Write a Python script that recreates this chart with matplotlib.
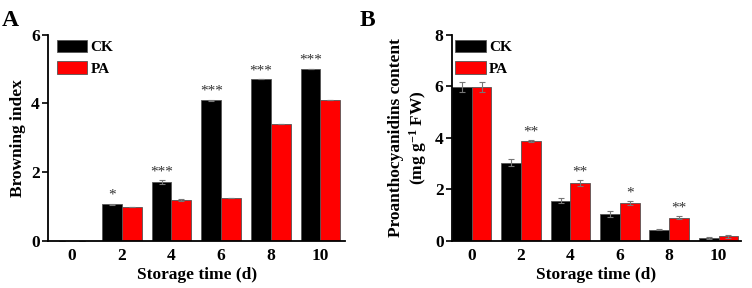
import matplotlib
matplotlib.use("Agg")
import matplotlib.pyplot as plt
import numpy as np

days = ["0", "2", "4", "6", "8", "10"]

# Panel A: browning index
bi_ck = [0.0, 1.07, 1.72, 4.09, 4.70, 5.00]
bi_ck_err = [0.0, 0.02, 0.05, 0.02, 0.0, 0.0]
bi_pa = [0.0, 1.00, 1.19, 1.25, 3.40, 4.10]
bi_pa_err = [0.0, 0.0, 0.02, 0.0, 0.0, 0.0]
bi_sig = ["", "*", "***", "***", "***", "***"]

# Panel B: proanthocyanidins content
pc_ck = [5.98, 3.04, 1.57, 1.04, 0.44, 0.12]
pc_ck_err = [0.19, 0.13, 0.08, 0.12, 0.02, 0.03]
pc_pa = [5.97, 3.88, 2.25, 1.48, 0.91, 0.18]
pc_pa_err = [0.20, 0.05, 0.12, 0.08, 0.06, 0.06]
pc_sig = ["", "**", "**", "*", "**", ""]

plt.rcParams['font.family'] = ['Liberation Serif', 'DejaVu Serif']
plt.rcParams['font.weight'] = 'bold'
plt.rcParams['mathtext.fontset'] = 'custom'
plt.rcParams['mathtext.rm'] = 'Liberation Serif:bold'
plt.rcParams['mathtext.default'] = 'rm'

fig = plt.figure(figsize=(7.52, 2.88), dpi=100)
axA = fig.add_axes([0.0642, 0.163, 0.395, 0.717])
axB = fig.add_axes([0.601, 0.163, 0.384, 0.717])

w = 0.4
x = np.arange(len(days))
edge = '#555555'
ekw = dict(ecolor='#777777', elinewidth=0.8, capsize=2, capthick=0.8)


def style(ax, ymax, ystep):
    for s in ['top', 'right']:
        ax.spines[s].set_visible(False)
    for s in ['left', 'bottom']:
        ax.spines[s].set_linewidth(1.3)
    ax.set_ylim(0, ymax)
    ax.set_yticks(np.arange(0, ymax + 0.01, ystep))
    ax.set_xticks(x)
    ax.set_xticklabels(days)
    ax.tick_params(axis='y', direction='out', length=4, width=1.2, labelsize=12.5, pad=2)
    ax.tick_params(axis='x', length=0, labelsize=12.5, pad=5)
    for lab in ax.get_xticklabels() + ax.get_yticklabels():
        lab.set_fontweight('bold')
    ax.set_xlabel("Storage time (d)", fontsize=12.5, fontweight='bold', labelpad=2)


def legend(ax, xa, ya):
    ax.legend(loc='upper left', bbox_to_anchor=(xa, ya), frameon=False, fontsize=11,
              handlelength=2.0, handleheight=0.9, handletextpad=0.2,
              labelspacing=0.45, borderaxespad=0.0)


# Panel A
axA.bar(x - w / 2, bi_ck, w, yerr=bi_ck_err, color='black', edgecolor=edge, linewidth=0.6, label='CK', error_kw=ekw)
axA.bar(x + w / 2, bi_pa, w, yerr=bi_pa_err, color='#ff0000', edgecolor=edge, linewidth=0.6, label='PA', error_kw=ekw)
for i, s in enumerate(bi_sig):
    if s:
        axA.text(x[i] - w / 2, bi_ck[i] + bi_ck_err[i] + 0.06, s, ha='center', va='bottom', fontsize=11, fontweight='normal', color='#333333')
axA.set_xlim(-0.48, 5.5)
style(axA, 6, 2)
axA.set_ylabel("Browning index", fontsize=12.5, fontweight='bold', labelpad=4)
legend(axA, 0.008, 1.005)

# Panel B
axB.bar(x - w / 2, pc_ck, w, yerr=pc_ck_err, color='black', edgecolor=edge, linewidth=0.6, label='CK', error_kw=ekw)
axB.bar(x + w / 2, pc_pa, w, yerr=pc_pa_err, color='#ff0000', edgecolor=edge, linewidth=0.6, label='PA', error_kw=ekw)
for i, s in enumerate(pc_sig):
    if s:
        axB.text(x[i] + w / 2, pc_pa[i] + pc_pa_err[i] + 0.06, s, ha='center', va='bottom', fontsize=11, fontweight='normal', color='#333333')
axB.set_xlim(-0.4, 5.45)
style(axB, 8, 2)
axB.set_ylabel("Proanthocyanidins content\n(mg g$^{-1}$ FW)", fontsize=12.5, fontweight='bold', labelpad=4, linespacing=1.2)
legend(axB, -0.01, 1.005)

fig.text(0.003, 0.965, "A", fontsize=17, fontweight='bold', va='top', ha='left')
fig.text(0.478, 0.965, "B", fontsize=17, fontweight='bold', va='top', ha='left')

fig.savefig("out.png", dpi=100)
